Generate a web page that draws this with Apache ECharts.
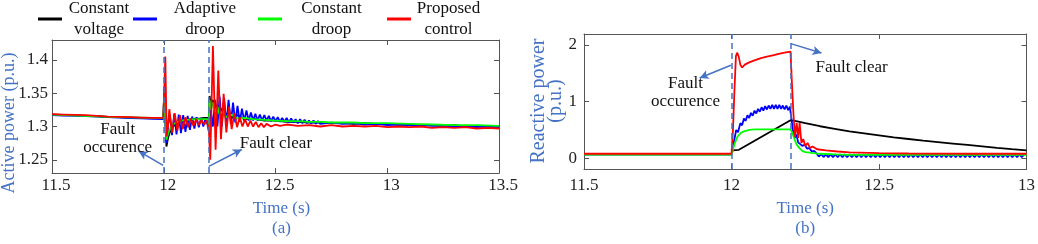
<!DOCTYPE html>
<html>
<head>
<meta charset="utf-8">
<script src="https://cdn.jsdelivr.net/npm/echarts@6/dist/echarts.min.js"></script>
<style>
  html, body { margin: 0; padding: 0; background: #fff; }
  #main { width: 1038px; height: 244px; }
</style>
</head>
<body>
<div id="main"></div>
<script>
// series names (legend order)
var names = ['Constant voltage', 'Adaptive droop', 'Constant droop', 'Proposed control'];
var colors = ['#000000', '#0000ff', '#00ff00', '#ff0000'];

// ---- (a) active power ----
var pkT = [11.5,11.55,11.6,11.65,11.7,11.75,11.8,11.85,11.9,11.95,11.998,12.003,12.008,12.012,12.02,12.03,12.04,12.05,12.06,12.07,12.08,12.09,12.1,12.12,12.14,12.16,12.18,12.198,12.201,12.205,12.212,12.22,12.23,12.24,12.25,12.26,12.275,12.29,12.31,12.33,12.36,12.4,12.45,12.5,12.55,12.6,12.65,12.7,12.75,12.8,12.85,12.9,12.95,13,13.05,13.1,13.15,13.2,13.25,13.3,13.35,13.4,13.45,13.5];
var pkV = [1.318,1.3175,1.317,1.316,1.3155,1.3145,1.314,1.3135,1.313,1.3125,1.3125,1.36,1.30,1.27,1.284,1.294,1.300,1.302,1.305,1.306,1.308,1.309,1.31,1.311,1.312,1.312,1.313,1.313,1.298,1.346,1.33,1.34,1.325,1.333,1.32,1.327,1.316,1.322,1.313,1.317,1.311,1.312,1.309,1.309,1.307,1.307,1.306,1.306,1.305,1.305,1.304,1.305,1.304,1.304,1.303,1.303,1.302,1.302,1.301,1.302,1.3,1.301,1.3,1.3];

var pbT = [11.5,11.55,11.6,11.65,11.7,11.75,11.8,11.85,11.9,11.95,11.998,12.004,12.009,12.014,12.02,12.027,12.037,12.047,12.057,12.067,12.077,12.087,12.097,12.107,12.117,12.127,12.137,12.147,12.157,12.167,12.177,12.187,12.195,
  12.199,12.203,12.21,12.22,12.23,12.24,12.25,12.26,12.27,12.28,12.29,12.30,12.31,12.32,12.33,12.34,12.35,12.36,12.37,12.38,12.39,12.40,12.41,12.42,12.43,12.44,12.45,12.46,12.47,12.48,12.49,12.50,12.51,12.52,12.53,12.54,12.55,12.56,12.57,12.58,12.59,12.60,12.61,12.62,12.63,12.64,12.65,12.66,12.67,12.68,12.69,12.70,
  12.75,12.8,12.85,12.9,12.95,13,13.05,13.1,13.15,13.2,13.25,13.3,13.35,13.4,13.45,13.5];
var pbV = [1.317,1.3165,1.316,1.3155,1.3148,1.314,1.3133,1.3128,1.3122,1.3115,1.311,1.36,1.29,1.275,1.305,1.318,1.287,1.319,1.288,1.318,1.290,1.317,1.292,1.316,1.295,1.315,1.297,1.314,1.299,1.313,1.300,1.312,1.304,
  1.307,1.29,1.325,1.30,1.34,1.30,1.345,1.30,1.343,1.302,1.34,1.304,1.336,1.306,1.331,1.307,1.327,1.308,1.324,1.309,1.321,1.309,1.319,1.309,1.318,1.309,1.317,1.309,1.316,1.308,1.315,1.308,1.314,1.307,1.313,1.307,1.313,1.306,1.312,1.306,1.311,1.305,1.311,1.305,1.310,1.305,1.309,1.304,1.309,1.304,1.308,1.304,
  1.306,1.304,1.305,1.303,1.304,1.302,1.303,1.302,1.302,1.301,1.301,1.3,1.3,1.299,1.3,1.299];

var pgT = [11.5,11.75,11.998,12.003,12.008,12.012,12.02,12.03,12.04,12.06,12.08,12.1,12.14,12.198,12.201,12.205,12.212,12.22,12.23,12.24,12.25,12.265,12.28,12.3,12.33,12.36,12.4,12.45,12.5,12.55,12.6,12.65,12.7,12.75,12.8,12.85,12.9,12.95,13,13.1,13.2,13.3,13.4,13.5];
var pgV = [1.318,1.3145,1.3125,1.352,1.305,1.28,1.29,1.298,1.303,1.307,1.309,1.31,1.311,1.311,1.296,1.34,1.326,1.336,1.322,1.33,1.318,1.323,1.314,1.318,1.312,1.313,1.311,1.31,1.309,1.308,1.308,1.307,1.307,1.306,1.306,1.306,1.305,1.305,1.305,1.304,1.303,1.302,1.302,1.301];

var prT = [11.5,11.55,11.6,11.65,11.7,11.75,11.8,11.85,11.9,11.95,11.998,12.003,12.007,12.013,12.019,12.025,12.037,12.049,12.061,12.073,12.085,12.097,12.109,12.121,12.133,12.145,12.157,12.169,12.181,12.193,
  12.198,12.202,12.208,12.220,12.232,12.244,12.256,12.268,12.280,12.292,12.304,12.316,12.328,12.340,12.352,12.364,12.376,12.388,12.400,12.412,12.424,12.436,12.448,12.46,12.48,12.5,
  12.52,12.55,12.6,12.65,12.7,12.75,12.8,12.85,12.9,12.95,13,13.05,13.1,13.15,13.2,13.25,13.3,13.35,13.4,13.45,13.5];
var prV = [1.3185,1.318,1.3175,1.317,1.316,1.315,1.3145,1.314,1.3135,1.313,1.313,1.36,1.405,1.285,1.3,1.326,1.291,1.32,1.294,1.317,1.296,1.314,1.299,1.312,1.301,1.311,1.302,1.31,1.303,1.309,
  1.31,1.295,1.25,1.421,1.265,1.384,1.281,1.349,1.291,1.330,1.296,1.320,1.299,1.314,1.300,1.311,1.300,1.309,1.300,1.307,1.299,1.305,1.299,1.304,1.300,1.303,
  1.301,1.303,1.301,1.302,1.3,1.302,1.3,1.301,1.3,1.301,1.299,1.3,1.299,1.3,1.298,1.299,1.298,1.299,1.297,1.298,1.297];

// ---- (b) reactive power ----
var qkT = [11.5,12.0,12.004,12.025,12.2,12.215,12.25,12.3,12.35,12.4,12.45,12.5,12.55,12.6,12.65,12.7,12.75,12.8,12.85,12.9,12.95,13];
var qkV = [0.07,0.07,0.14,0.15,0.67,0.66,0.62,0.565,0.52,0.475,0.44,0.405,0.37,0.34,0.31,0.285,0.26,0.235,0.21,0.185,0.162,0.14];

var qbT = [11.5,12.0,12.01,12.016,12.022,12.03,12.036,12.042,12.048,12.054,12.06,12.066,12.072,12.078,12.084,12.09,12.096,12.102,12.108,12.114,12.12,12.126,12.132,12.138,12.144,12.15,12.156,12.162,12.168,12.174,12.18,12.186,12.192,12.198,12.203,12.208,12.214,12.22,12.226,12.232,12.24,12.248,12.256,12.264,12.272,12.28];
var qbV = [0.07,0.07,0.34,0.5,0.46,0.62,0.58,0.7,0.66,0.76,0.71,0.8,0.75,0.84,0.79,0.87,0.82,0.9,0.84,0.92,0.86,0.93,0.87,0.94,0.87,0.94,0.87,0.94,0.87,0.93,0.86,0.93,0.85,0.91,0.7,0.5,0.36,0.42,0.28,0.3,0.22,0.24,0.17,0.18,0.12,0.13];
// blue ripple after the fault clears, one sample every 0.008 s from 12.288
var qbTailStart = 12.288, qbTailStep = 0.008;
var qbTail = [0.09,0.03,0.075,0.022,0.07,0.02,0.07,0.02,0.069,0.021,
  0.07,0.02,0.069,0.021,0.07,0.02,0.069,0.02,0.068,0.021,
  0.069,0.02,0.068,0.021,0.068,0.02,0.069,0.021,0.068,0.02,
  0.068,0.021,0.067,0.02,0.068,0.021,0.067,0.02,0.068,0.021,
  0.067,0.02,0.068,0.021,0.067,0.021,0.068,0.02,0.067,0.021,
  0.068,0.02,0.067,0.021,0.067,0.02,0.068,0.021,0.067,0.02,
  0.067,0.021,0.068,0.02,0.067,0.021,0.067,0.02,0.068,0.021,
  0.067,0.02,0.067,0.021,0.068,0.02,0.067,0.021,0.067,0.02,
  0.068,0.021,0.067,0.02,0.067,0.021,0.068,0.021,0.067];

var qgT = [11.5,12.0,12.005,12.01,12.02,12.03,12.04,12.06,12.08,12.1,12.15,12.2,12.205,12.212,12.22,12.23,12.24,12.25,12.27,12.3,12.35,12.4,12.5,13];
var qgV = [0.065,0.065,0.15,0.25,0.38,0.44,0.47,0.5,0.51,0.51,0.51,0.51,0.46,0.36,0.25,0.18,0.13,0.11,0.095,0.08,0.068,0.062,0.06,0.06];

var qrT = [11.5,12.0,12.005,12.01,12.015,12.019,12.024,12.03,12.036,12.045,12.06,12.08,12.1,12.12,12.14,12.16,12.18,12.2,12.205,12.21,12.215,12.221,12.226,12.231,12.237,12.243,12.25,12.258,12.266,12.275,12.29,12.32,12.36,12.4,12.5,12.6,12.8,13];
var qrV = [0.08,0.08,0.5,1.2,1.8,1.86,1.8,1.65,1.6,1.65,1.69,1.73,1.765,1.79,1.815,1.84,1.86,1.88,1.3,0.78,0.38,0.62,0.36,0.62,0.27,0.34,0.22,0.27,0.18,0.21,0.16,0.14,0.12,0.105,0.09,0.085,0.08,0.08];

var yTicksA = [1.25, 1.3, 1.35, 1.4];
var yTicksB = [0, 1, 2];

function zip(t, v) {
  return t.map(function (x, i) { return [x, v[i]]; });
}
var qbData = zip(qbT, qbV).concat(qbTail.map(function (v, i) {
  return [+(qbTailStart + i * qbTailStep).toFixed(3), v];
}));

var FONT = 'Liberation Serif';
var BLUE_TXT = '#4472c4';
var AX = '#555';

function xAx(grid, min, max, pos, show) {
  return {
    type: 'value', gridIndex: grid, min: min, max: max, interval: 0.5, position: pos,
    axisLine: {show: true, onZero: false, lineStyle: {color: AX}},
    axisTick: {show: true, inside: true, length: 5, lineStyle: {color: AX}},
    axisLabel: {show: show, color: '#222', fontSize: 17, fontFamily: FONT},
    splitLine: {show: false}
  };
}
function yAx(grid, min, max, ticks, pos, show) {
  return {
    type: 'value', gridIndex: grid, min: min, max: max, position: pos,
    axisLine: {show: true, onZero: false, lineStyle: {color: AX}},
    axisTick: {show: true, inside: true, length: 5, customValues: ticks, lineStyle: {color: AX}},
    axisLabel: {show: show, customValues: ticks, color: '#222', fontSize: 17, fontFamily: FONT},
    splitLine: {show: false}
  };
}

var xAxes = [
  xAx(0, 11.5, 13.5, 'bottom', true),
  xAx(0, 11.5, 13.5, 'top', false),
  xAx(1, 11.5, 13, 'bottom', true),
  xAx(1, 11.5, 13, 'top', false)
];
xAxes[0].name = 'Time (s)\n(a)';
xAxes[0].nameLocation = 'middle';
xAxes[0].nameGap = 21;
xAxes[0].nameTextStyle = {color: BLUE_TXT, fontSize: 17, fontFamily: FONT, lineHeight: 20, padding: [0, 0, 0, 12]};
xAxes[0].axisLabel.margin = 4;
xAxes[0].axisLabel.padding = [0, 0, 0, 8];
xAxes[2].name = 'Time (s)\n(b)';
xAxes[2].nameLocation = 'middle';
xAxes[2].nameGap = 15;
xAxes[2].nameTextStyle = {color: BLUE_TXT, fontSize: 17, fontFamily: FONT, lineHeight: 20};
xAxes[2].axisLabel.margin = 8;

var yAxes = [
  yAx(0, 1.23, 1.43, yTicksA, 'left', true),
  yAx(0, 1.23, 1.43, yTicksA, 'right', false),
  yAx(1, -0.19, 2.19, yTicksB, 'left', true),
  yAx(1, -0.19, 2.19, yTicksB, 'right', false)
];
yAxes[0].axisLabel.margin = 4;
yAxes[2].axisLabel.margin = 7;

// y-axis titles sit off-centre in the original, so they are placed as text
var yTitles = [
  {type: 'text', x: 9, y: 123, rotation: Math.PI / 2,
    style: {text: 'Active power (p.u.)', fill: BLUE_TXT, font: '18px "Liberation Serif"', align: 'center', verticalAlign: 'middle'}},
  {type: 'text', x: 547, y: 101, rotation: Math.PI / 2,
    style: {text: 'Reactive power\n(p.u.)', fill: BLUE_TXT, font: '20px "Liberation Serif"', lineHeight: 17, align: 'center', verticalAlign: 'middle'}}
];

var dashLine = {type: [6, 4], color: BLUE_TXT, width: 1.5};
var arrowLine = {type: 'solid', color: BLUE_TXT, width: 1.5};
var txtLabel = {show: true, position: 'inside', color: '#111', fontSize: 17, fontFamily: FONT, lineHeight: 18, align: 'center'};

function marks(coordsFault, coordsClear, faultText, clearText) {
  return {
    markLine: {
      silent: true, symbol: ['none', 'none'], label: {show: false}, animation: false,
      data: [
        {xAxis: 12, lineStyle: dashLine},
        {xAxis: 12.2, lineStyle: dashLine},
        [{coord: coordsFault[0], lineStyle: arrowLine}, {coord: coordsFault[1], symbol: 'arrow', symbolSize: [7, 9]}],
        [{coord: coordsClear[0], lineStyle: arrowLine}, {coord: coordsClear[1], symbol: 'arrow', symbolSize: [7, 9]}]
      ]
    },
    markPoint: {
      silent: true, symbol: 'circle', symbolSize: 0, animation: false,
      data: [
        {coord: faultText, label: Object.assign({}, txtLabel, {formatter: 'Fault\noccurence'})},
        {coord: clearText, label: Object.assign({}, txtLabel, {formatter: 'Fault clear'})}
      ]
    }
  };
}

function line(name, color, data, xi, yi, extra) {
  return Object.assign({
    name: name, type: 'line', xAxisIndex: xi, yAxisIndex: yi, data: data,
    showSymbol: false, symbol: 'none', sampling: null, animation: false,
    lineStyle: {color: color, width: 1.8}, itemStyle: {color: color}, z: 2
  }, extra || {});
}

var series = [
  line(names[0], colors[0], zip(pkT, pkV), 0, 0),
  line(names[1], colors[1], zip(pbT, pbV), 0, 0),
  line(names[2], colors[2], zip(pgT, pgV), 0, 0),
  line(names[3], colors[3], zip(prT, prV), 0, 0,
    marks([[11.997, 1.2416], [11.888, 1.263]], [[12.2016, 1.240], [12.349, 1.2654]], [11.794, 1.2823], [12.502, 1.274])),
  line(names[0], colors[0], zip(qkT, qkV), 2, 2),
  line(names[1], colors[1], qbData, 2, 2),
  line(names[2], colors[2], zip(qgT, qgV), 2, 2),
  line(names[3], colors[3], zip(qrT, qrV), 2, 2,
    marks([[11.998, 1.64], [11.892, 1.416]], [[12.201, 2.02], [12.305, 1.854]], [11.844, 1.163], [12.407, 1.60]))
];

// one legend block per entry, two centred lines of text each
var legendPos = [38, 133, 258, 387];
var legendW = [64, 86, 89, 65];
var legends = names.map(function (n, i) {
  return {
    data: [n], left: legendPos[i], top: 0, icon: 'rect', itemWidth: 24, itemHeight: 3,
    selectedMode: false, padding: 0,
    formatter: function (s) { var p = s.split(' '); return '{a|' + p[0] + '}\n{a|' + p[1] + '}'; },
    textStyle: {rich: {a: {width: legendW[i], align: 'center', fontSize: 17, lineHeight: 21, fontFamily: FONT, color: '#111'}}}
  };
});

var chart = echarts.init(document.getElementById('main'));
chart.setOption({
  animation: false,
  backgroundColor: '#fff',
  textStyle: {fontFamily: FONT},
  legend: legends,
  grid: [
    {left: 52, top: 40, width: 447, height: 142},
    {left: 584, top: 34, width: 445, height: 141}
  ],
  xAxis: xAxes,
  yAxis: yAxes,
  graphic: yTitles,
  series: series
});
</script>
</body>
</html>
